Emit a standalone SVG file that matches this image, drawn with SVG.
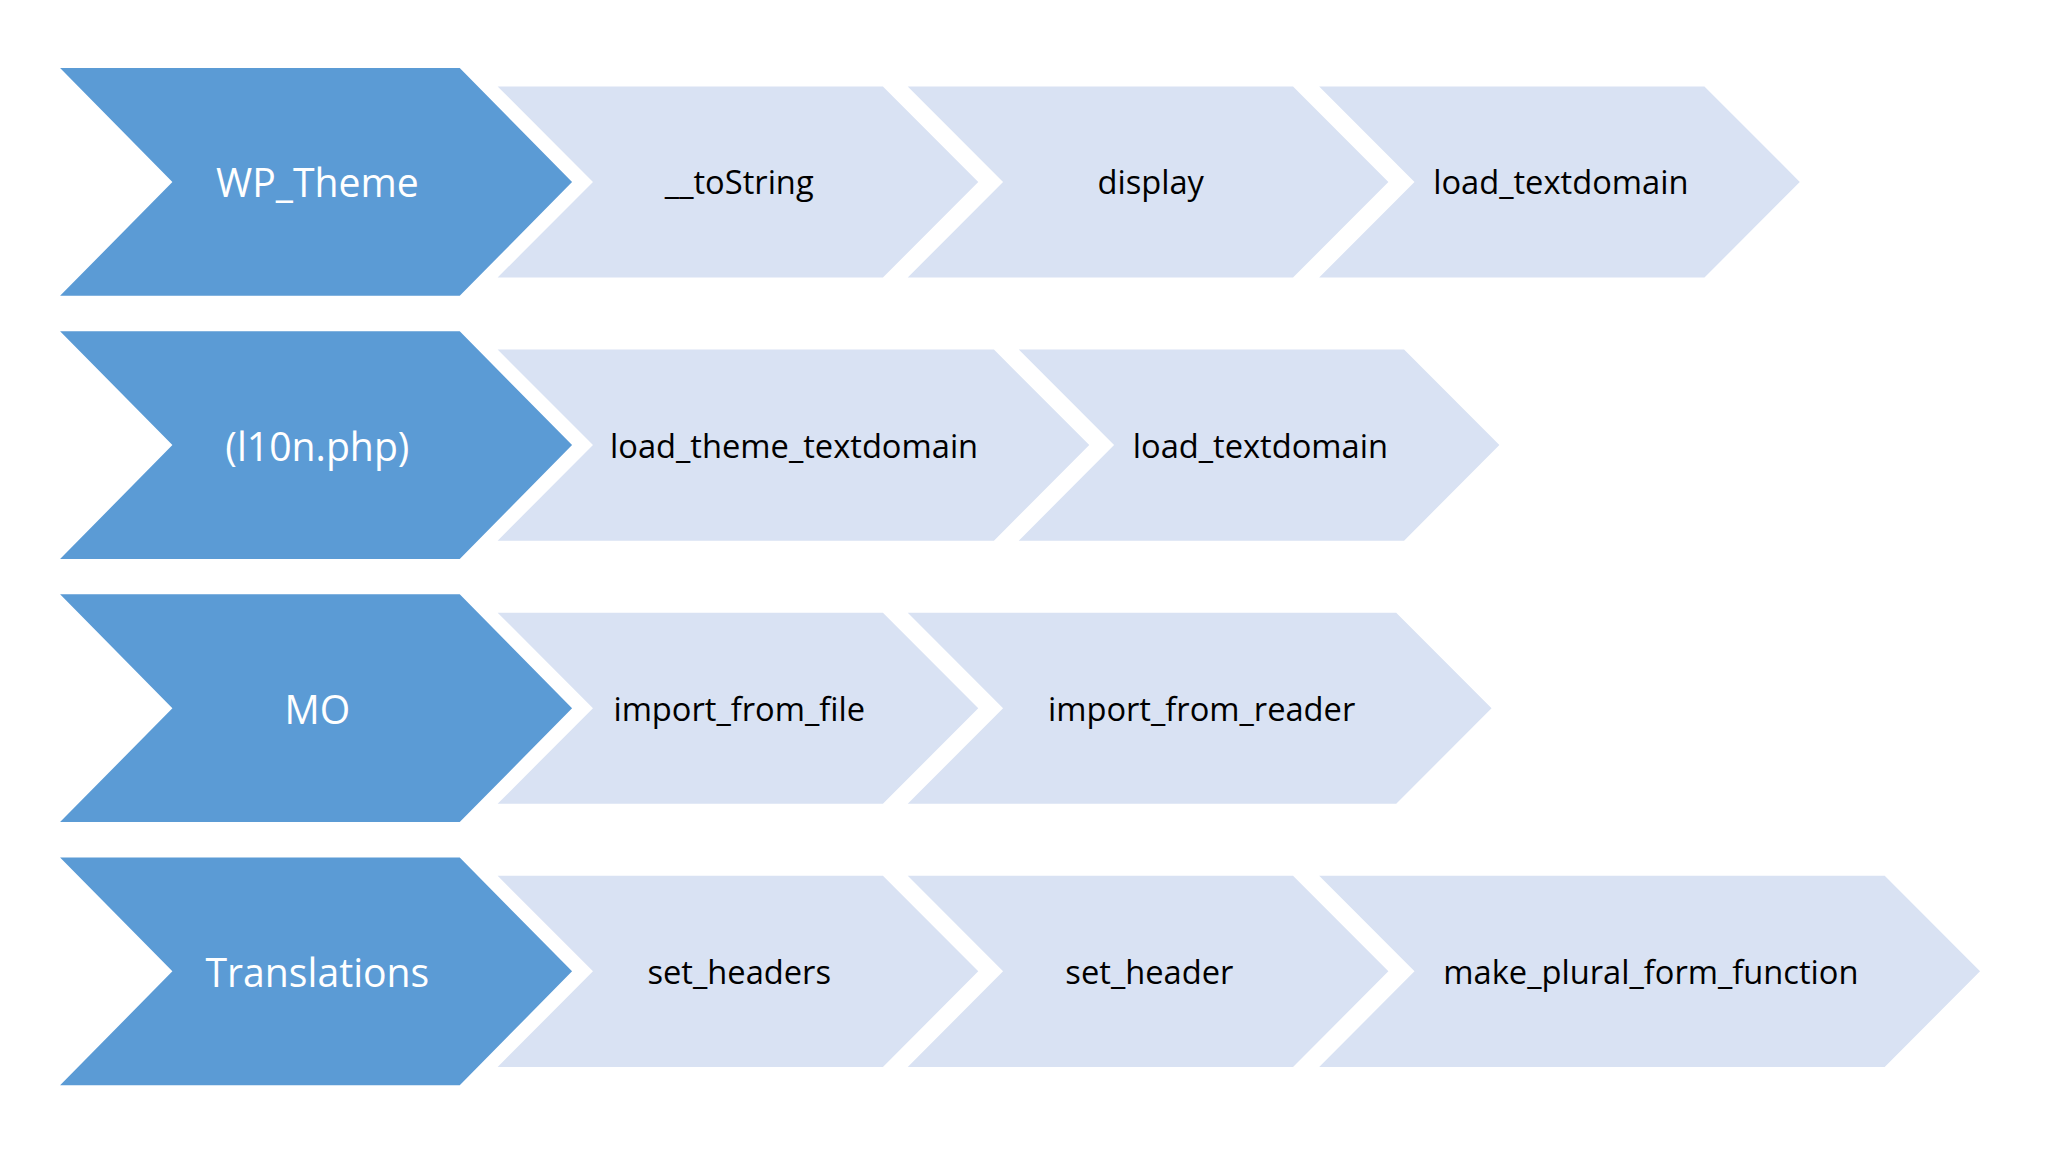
<svg xmlns="http://www.w3.org/2000/svg" width="2048" height="1152" viewBox="0 0 2048 1152">
<style>
.d{fill:#5B9BD5}.l{fill:#D9E2F3}
.td{font-family:"Open Sans","Noto Sans",sans-serif;font-size:30px;fill:#fff;text-anchor:middle;dominant-baseline:central}
.tl{font-family:"Open Sans","Noto Sans",sans-serif;font-size:25px;fill:#000;text-anchor:middle;dominant-baseline:central}
</style>
<rect width="2048" height="1152" fill="#fff"/>
<g transform="scale(1.3061,1.3091)">
<g id="r1">
<g id="n1"><polygon class="d" points="46,52 352,52 438,139 352,226 46,226 132,139"/><text class="td" x="243" y="139">WP_Theme</text></g>
<g id="n2"><polygon class="l" points="381,66 676,66 749,139 676,212 381,212 454,139"/><text class="tl" x="566" y="139">__toString</text></g>
<g id="n3"><polygon class="l" points="695,66 990,66 1063,139 990,212 695,212 768,139"/><text class="tl" x="881" y="139">display</text></g>
<g id="n4"><polygon class="l" points="1010,66 1305,66 1378,139 1305,212 1010,212 1083,139"/><text class="tl" x="1195" y="139">load_textdomain</text></g>
</g>
<g id="r2">
<g id="n5"><polygon class="d" points="46,253 352,253 438,340 352,427 46,427 132,340"/><text class="td" x="243" y="340">(l10n.php)</text></g>
<g id="n6"><polygon class="l" points="381,267 761,267 834,340 761,413 381,413 454,340"/><text class="tl" x="608" y="340">load_theme_textdomain</text></g>
<g id="n7"><polygon class="l" points="780,267 1075,267 1148,340 1075,413 780,413 853,340"/><text class="tl" x="965" y="340">load_textdomain</text></g>
</g>
<g id="r3">
<g id="n8"><polygon class="d" points="46,454 352,454 438,541 352,628 46,628 132,541"/><text class="td" x="243" y="541">MO</text></g>
<g id="n9"><polygon class="l" points="381,468 676,468 749,541 676,614 381,614 454,541"/><text class="tl" x="566" y="541">import_from_file</text></g>
<g id="n10"><polygon class="l" points="695,468 1069,468 1142,541 1069,614 695,614 768,541"/><text class="tl" x="920" y="541">import_from_reader</text></g>
</g>
<g id="r4">
<g id="n11"><polygon class="d" points="46,655 352,655 438,742 352,829 46,829 132,742"/><text class="td" x="243" y="742">Translations</text></g>
<g id="n12"><polygon class="l" points="381,669 676,669 749,742 676,815 381,815 454,742"/><text class="tl" x="566" y="742">set_headers</text></g>
<g id="n13"><polygon class="l" points="695,669 990,669 1063,742 990,815 695,815 768,742"/><text class="tl" x="880" y="742">set_header</text></g>
<g id="n14"><polygon class="l" points="1010,669 1443,669 1516,742 1443,815 1010,815 1083,742"/><text class="tl" x="1264" y="742">make_plural_form_function</text></g>
</g>
<g id="connectors"/>
</g>
</svg>
